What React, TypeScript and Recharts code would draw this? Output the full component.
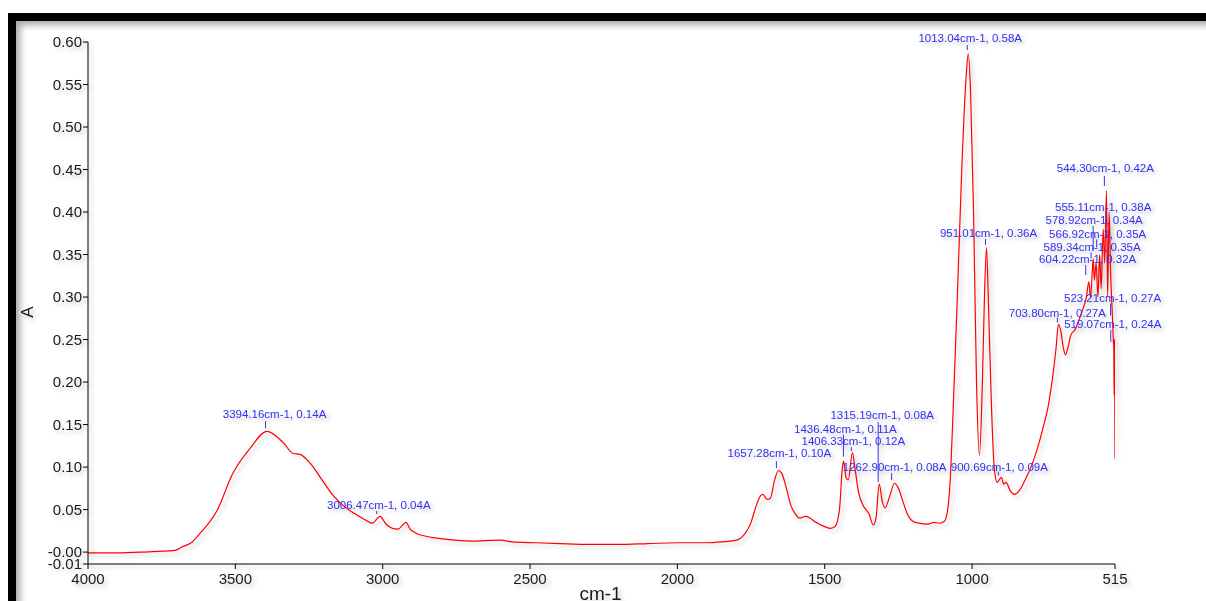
import React from 'react';
import { LineChart, Line, XAxis, YAxis, ReferenceDot } from 'recharts';

// spectrum (wavenumber in cm-1, absorbance)
const wavenumbers = [
  4000, 3915, 3824, 3705, 3681, 3654, 3620, 3562, 3508, 3450, 3393, 3338, 3304, 3281, 3247, 3206,
  3169, 3135, 3094, 3060, 3036, 3009, 2989, 2968, 2948, 2921, 2907, 2890, 2880, 2780, 2700, 2600,
  2560, 2480, 2400, 2300, 2200, 2100, 2000, 1900, 1850, 1800, 1770, 1750, 1735, 1718, 1710, 1695,
  1685, 1670, 1657, 1645, 1630, 1615, 1600, 1585, 1565, 1550, 1530, 1500, 1480, 1465, 1450, 1440,
  1436, 1428, 1420, 1406, 1398, 1385, 1370, 1350, 1335, 1326, 1315, 1305, 1295, 1280, 1263, 1250,
  1235, 1220, 1200, 1180, 1150, 1130, 1110, 1095, 1085, 1075, 1065, 1050, 1035, 1020, 1013, 1005,
  995, 985, 975, 965, 958, 951, 945, 935, 925, 915, 908, 900, 893, 885, 870, 857, 840, 820, 800,
  780, 760, 740, 725, 715, 707, 700, 690, 683, 675, 665, 650, 635, 620, 612, 604, 598, 592, 589,
  585, 579, 573, 567, 562, 555, 550, 544, 540, 535, 530, 523, 521, 519, 518, 516.5, 515,
];
const absorbance = [
  -0.001, -0.001, 0.0, 0.002, 0.006, 0.01, 0.022, 0.049, 0.093, 0.122, 0.142, 0.129, 0.116, 0.115, 0.105, 0.085,
  0.067, 0.055, 0.045, 0.038, 0.034, 0.042, 0.033, 0.028, 0.027, 0.035, 0.027, 0.023, 0.021, 0.015, 0.013, 0.014,
  0.012, 0.011, 0.01, 0.009, 0.009, 0.01, 0.011, 0.011, 0.012, 0.014, 0.022, 0.035, 0.052, 0.066, 0.068, 0.062,
  0.063, 0.085, 0.096, 0.092, 0.075, 0.055, 0.045, 0.04, 0.042, 0.04, 0.035, 0.03, 0.028, 0.03, 0.05, 0.1,
  0.107, 0.088, 0.085, 0.117, 0.1, 0.07, 0.055, 0.045, 0.032, 0.04, 0.08, 0.06, 0.052, 0.065, 0.081, 0.075,
  0.06, 0.045, 0.036, 0.034, 0.033, 0.035, 0.034, 0.036, 0.045, 0.08, 0.16, 0.3, 0.45, 0.56, 0.586, 0.54,
  0.4, 0.2, 0.114, 0.2, 0.3, 0.358, 0.3, 0.18, 0.1, 0.082, 0.085, 0.088, 0.08, 0.082, 0.072, 0.068, 0.072, 0.085, 0.1,
  0.12, 0.145, 0.175, 0.21, 0.24, 0.268, 0.262, 0.24, 0.232, 0.24, 0.255, 0.262, 0.275, 0.29, 0.3, 0.318, 0.3, 0.33, 0.345,
  0.32, 0.34, 0.3, 0.35, 0.31, 0.38, 0.34, 0.425, 0.3, 0.4, 0.33, 0.27, 0.25, 0.24, 0.185, 0.25, 0.11,
];

// peak picks
const peakWn = [
  3394.16, 3006.47, 1657.28, 1436.48, 1406.33, 1315.19, 1262.9, 1013.04, 951.01, 900.69,
  703.8, 604.22, 589.34, 578.92, 566.92, 555.11, 544.3, 523.21, 519.07,
];
const peakA = [
  0.14, 0.04, 0.1, 0.11, 0.12, 0.08, 0.08, 0.58, 0.36, 0.09,
  0.27, 0.32, 0.35, 0.34, 0.35, 0.38, 0.42, 0.27, 0.24,
];

// where each pick label sits relative to its point (px): text dx, dy, marker dx, marker top, marker bottom
const peakLayout = [
  [8, -15, -1, -12, -5],
  [-2, -9, -4, -7, -4],
  [1, -10, -2, -6, 1],
  [2, -26, 0, -24, -2],
  [1, -5, -1, -3, 1],
  [3, -65, -1, -62, -2],
  [0, -13, -3, -11, -4],
  [2, -17, -1, -14, -9],
  [2, -9, -1, -7, -1],
  [-2, -5, -3, -4, 0],
  [-2, -6, -2, -5, 0],
  [-1, -17, -3, -15, -5],
  [-1, -4, -2, -2, 4],
  [-2, -39, -3, -37, -13],
  [-2, -17, -3, -15, -7],
  [0, -18, 3, -16, -6],
  [-1, -23, -2, -19, -9],
  [0, -21, -2, -19, -7],
  [-1, -20, -3, -18, -6],
];

const xTicks = [4000, 3500, 3000, 2500, 2000, 1500, 1000, 515];
const yTicks = [-0.014, 0, 0.05, 0.1, 0.15, 0.2, 0.25, 0.3, 0.35, 0.4, 0.45, 0.5, 0.55, 0.6];

const data = wavenumbers.map((wn, i) => ({ wn, a: absorbance[i] }));

const BLUE = '#3030f4';

const fmtY = (v: number) => (v < 0 ? '-0.01' : v === 0 ? '-0.00' : v.toFixed(2));

export default function App() {
  return (
    <div
      style={{
        position: 'absolute',
        left: 8,
        top: 13,
        width: 1198,
        height: 588,
        boxSizing: 'border-box',
        borderTop: '8px solid #000',
        borderLeft: '8px solid #000',
        boxShadow: 'inset 7px 7px 7px -3px rgba(0,0,0,0.35)',
        background: '#fff',
        overflow: 'hidden',
      }}
    >
      <div style={{ filter: 'drop-shadow(3px 3px 2px rgba(0,0,0,0.22))' }}>
        <LineChart
          width={1190}
          height={580}
          data={data}
          margin={{ top: 21, right: 91, bottom: 0, left: 0 }}
          style={{ fontFamily: '"Liberation Sans", Arial, sans-serif' }}
        >
          <XAxis
            dataKey="wn"
            type="number"
            domain={[515, 4000]}
            reversed
            ticks={xTicks}
            interval={0}
            height={37}
            tickSize={5}
            tickMargin={4}
            stroke="#000"
            tick={{ fontSize: 15, fill: '#1a1a1a' }}
            allowDataOverflow
            label={{
              content: (p: any) => (
                <text
                  x={p.viewBox.x + p.viewBox.width / 2 - 1}
                  y={p.viewBox.y + 36}
                  textAnchor="middle"
                  fontSize={19}
                  fill="#1a1a1a"
                >
                  cm-1
                </text>
              ),
            }}
          />
          <YAxis
            type="number"
            domain={[-0.014, 0.6]}
            ticks={yTicks}
            interval={0}
            width={72}
            tickSize={5}
            tickMargin={1}
            stroke="#000"
            tickFormatter={fmtY}
            tick={{ fontSize: 15, fill: '#1a1a1a' }}
            allowDataOverflow
            label={{
              content: (p: any) => {
                const x = p.viewBox.x + 11;
                const y = p.viewBox.y + p.viewBox.height / 2 + 9;
                return (
                  <text
                    x={x}
                    y={y}
                    textAnchor="middle"
                    dominantBaseline="central"
                    fontSize={17}
                    fill="#1a1a1a"
                    transform={`rotate(-90, ${x}, ${y})`}
                  >
                    A
                  </text>
                );
              },
            }}
          />
          <Line
            type="monotone"
            dataKey="a"
            stroke="#ff0000"
            strokeWidth={1.2}
            dot={false}
            activeDot={false}
            isAnimationActive={false}
          />
          {peakWn.map((wn, i) => {
            const [dx, dy, ldx, l1, l2] = peakLayout[i];
            const label = `${wn.toFixed(2)}cm-1, ${peakA[i].toFixed(2)}A`;
            return (
              <ReferenceDot
                key={wn}
                x={wn}
                y={peakA[i]}
                ifOverflow="visible"
                shape={(p: any) => (
                  <g>
                    <line
                      x1={p.cx + ldx}
                      y1={p.cy + l1}
                      x2={p.cx + ldx}
                      y2={p.cy + l2}
                      stroke={BLUE}
                      strokeWidth={1}
                    />
                    <text
                      x={p.cx + dx}
                      y={p.cy + dy}
                      textAnchor="middle"
                      fontSize={11.5}
                      fill={BLUE}
                    >
                      {label}
                    </text>
                  </g>
                )}
              />
            );
          })}
        </LineChart>
      </div>
    </div>
  );
}
